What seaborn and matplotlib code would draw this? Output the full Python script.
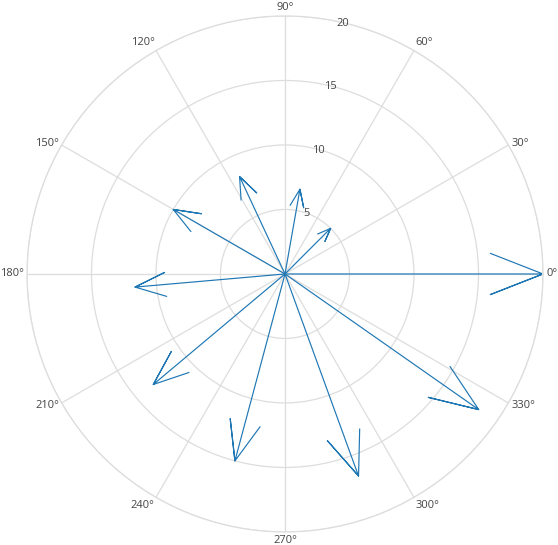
import numpy as np
import pandas as pd
import matplotlib
matplotlib.use("Agg")
import matplotlib.pyplot as plt
import seaborn as sns

# arrow tips (radius, angle in degrees)
magnitude = [20, 18.33, 16.67, 15, 13.33, 11.67, 10, 8.33, 6.67, 5]
angle_deg = [0, 325, 290, 255, 220, 185, 150, 115, 80, 45]
radial_ticks = [5, 10, 15, 20]
angle_ticks = [0, 30, 60, 90, 120, 150, 180, 210, 240, 270, 300, 330]

HEAD_BACK = 0.8    # barb ends sit at 80% of the arrow length
HEAD_SPREAD = 0.1  # and 0.1 rad either side of the shaft

rows = []
for i, (r, a) in enumerate(zip(magnitude, angle_deg)):
    t = np.deg2rad(a)
    pts = [(t, 0), (t, r), (t - HEAD_SPREAD, r * HEAD_BACK), (t, r), (t + HEAD_SPREAD, r * HEAD_BACK)]
    for k, (tt, rr) in enumerate(pts):
        rows.append({"arrow": i, "order": k, "theta": tt, "r": rr})
df = pd.DataFrame(rows)

sns.set_theme(style="white")
plt.rcParams["font.family"] = ["Open Sans", "DejaVu Sans"]

fig = plt.figure(figsize=(5.58, 5.45), dpi=100)
ax = fig.add_axes([0.0484, 0.0239, 0.9247, 0.9468], projection="polar")

sns.lineplot(data=df, x="theta", y="r", units="arrow", estimator=None, sort=False,
             color="#1f77b4", linewidth=0.85, ax=ax, legend=False)

rmax = radial_ticks[-1]
ax.set_ylim(0, rmax)
ax.set_rticks(radial_ticks)
ax.set_yticklabels([])
ax.set_xticks(np.deg2rad(angle_ticks))
ax.set_xticklabels([])
ax.grid(True, color="#dddddd", linewidth=0.9)
ax.spines["polar"].set_color("#dddddd")
ax.spines["polar"].set_linewidth(0.9)
ax.set_xlabel("")
ax.set_ylabel("")

# angular labels just outside the outer ring, plotly-like anchoring
for a in angle_ticks:
    t = np.deg2rad(a)
    c, s = np.cos(t), np.sin(t)
    ha = "left" if c > 0.01 else ("right" if c < -0.01 else "center")
    va = "bottom" if s > 0.8 else ("top" if s < -0.8 else "center")
    dy = 2.2 * s - (1.0 if (va == "center" and s < -0.3) else 0.0)
    ax.annotate(f"{a}°", xy=(t, rmax), xytext=(2.2 * c, dy),
                textcoords="offset points", ha=ha, va=va, fontsize=8, color="#444444",
                annotation_clip=False)

# radial labels along a line at ~79 degrees, nudged sideways
rad_axis = np.deg2rad(79)
for v in radial_ticks:
    ax.annotate(str(v), xy=(rad_axis, v), xytext=(6.4, -2.0), textcoords="offset points",
                ha="center", va="center", fontsize=8, color="#444444", annotation_clip=False)

fig.savefig("out.png", dpi=100, facecolor="white")
